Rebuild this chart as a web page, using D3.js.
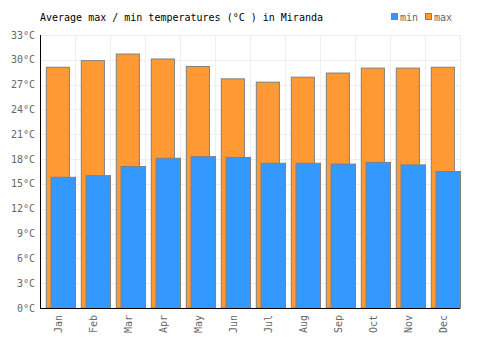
<!DOCTYPE html>
<html>
<head>
<meta charset="utf-8">
<script src="https://cdn.jsdelivr.net/npm/d3@7"></script>
<style>
  body { margin: 0; background: #fff; }
  #chart { width: 500px; height: 350px; }
  text { font-family: "DejaVu Sans Mono", "Liberation Mono", monospace; }
</style>
</head>
<body>
<div id="chart"></div>
<script>
const months = ["Jan", "Feb", "Mar", "Apr", "May", "Jun", "Jul", "Aug", "Sep", "Oct", "Nov", "Dec"];
const maxTemps = [29.1, 29.9, 30.7, 30.1, 29.2, 27.7, 27.3, 27.9, 28.4, 29.0, 29.0, 29.1];
const minTemps = [15.8, 16.0, 17.1, 18.1, 18.3, 18.2, 17.5, 17.5, 17.4, 17.6, 17.3, 16.5];
const yTicks = [0, 3, 6, 9, 12, 15, 18, 21, 24, 27, 30, 33];

const width = 500, height = 350;
const margin = { top: 35, right: 40, bottom: 42, left: 40 };
const innerW = width - margin.left - margin.right;
const innerH = height - margin.top - margin.bottom;

const svg = d3.select("#chart").append("svg")
  .attr("width", width)
  .attr("height", height)
  .style("display", "block");

const g = svg.append("g")
  .attr("transform", `translate(${margin.left},${margin.top})`);

const x = d3.scaleBand().domain(months).range([0, innerW]);
const y = d3.scaleLinear().domain([0, 33]).range([innerH, 0]);

// grid
const grid = g.append("g").attr("stroke", "#eeeeee").attr("stroke-width", 1);
yTicks.forEach(t => {
  grid.append("line")
    .attr("x1", 0).attr("x2", innerW)
    .attr("y1", Math.round(y(t)) + 0.5).attr("y2", Math.round(y(t)) + 0.5);
});
months.forEach(m => {
  const xx = Math.round(x(m) + x.bandwidth()) + 0.5;
  grid.append("line")
    .attr("x1", xx).attr("x2", xx)
    .attr("y1", 0).attr("y2", innerH);
});

// max bars (behind)
const bw = x.bandwidth();
g.append("g").selectAll("rect")
  .data(months)
  .enter().append("rect")
  .attr("x", (d, i) => x(d) + bw * 0.18)
  .attr("y", (d, i) => y(maxTemps[i]))
  .attr("width", bw * 0.66)
  .attr("height", (d, i) => innerH - y(maxTemps[i]))
  .attr("fill", "#ff9933")
  .attr("stroke", "#808080")
  .attr("stroke-width", 1);

// min bars (front)
g.append("g").selectAll("rect")
  .data(months)
  .enter().append("rect")
  .attr("x", (d, i) => x(d) + bw * 0.315)
  .attr("y", (d, i) => y(minTemps[i]))
  .attr("width", bw * 0.7)
  .attr("height", (d, i) => innerH - y(minTemps[i]))
  .attr("fill", "#3399ff")
  .attr("stroke", "#808080")
  .attr("stroke-width", 1);

// axes lines
g.append("line")
  .attr("x1", 0.5).attr("x2", 0.5).attr("y1", 0).attr("y2", innerH)
  .attr("stroke", "#000").attr("stroke-width", 1);
g.append("line")
  .attr("x1", 0).attr("x2", innerW).attr("y1", innerH + 0.5).attr("y2", innerH + 0.5)
  .attr("stroke", "#000").attr("stroke-width", 1);

// y tick labels
g.append("g").selectAll("text")
  .data(yTicks)
  .enter().append("text")
  .attr("x", -5)
  .attr("y", d => y(d))
  .attr("dy", "0.35em")
  .attr("text-anchor", "end")
  .attr("font-size", 10)
  .attr("fill", "#666")
  .text(d => d + "°C");

// x tick labels
g.append("g").selectAll("text")
  .data(months)
  .enter().append("text")
  .attr("transform", d => `translate(${x(d) + bw / 2 + 4},${innerH + 7}) rotate(-90)`)
  .attr("text-anchor", "end")
  .attr("font-size", 10)
  .attr("fill", "#666")
  .text(d => d);

// title
svg.append("text")
  .attr("x", 40)
  .attr("y", 21)
  .attr("font-size", 10)
  .attr("fill", "#000")
  .text("Average max / min temperatures (°C ) in Miranda");

// legend
const legend = [
  { label: "min", color: "#3399ff", x: 391 },
  { label: "max", color: "#ff9933", x: 425 }
];
legend.forEach(l => {
  svg.append("rect")
    .attr("x", l.x + 0.5).attr("y", 13.5)
    .attr("width", 6).attr("height", 6)
    .attr("fill", l.color)
    .attr("stroke", "#808080");
  svg.append("text")
    .attr("x", l.x + 9).attr("y", 21)
    .attr("font-size", 10)
    .attr("fill", "#666")
    .text(l.label);
});
</script>
</body>
</html>
